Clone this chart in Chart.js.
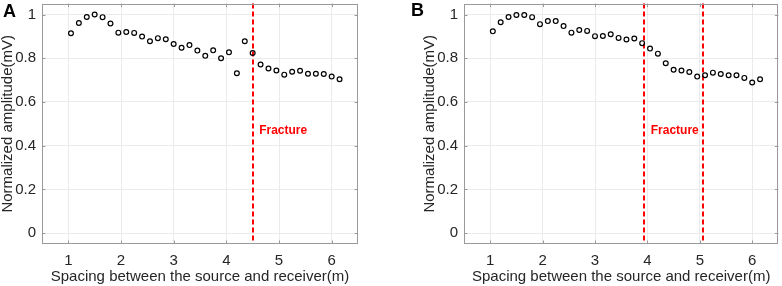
<!DOCTYPE html>
<html><head><meta charset="utf-8">
<script src="https://cdn.jsdelivr.net/npm/chart.js@4.4.1/dist/chart.umd.min.js"></script>
<style>
html,body{margin:0;padding:0;background:#fff;}
#wrap{position:relative;width:782px;height:286px;overflow:hidden;background:#fff;}
canvas{position:absolute;top:0;}
.lab{position:absolute;font:bold 18px "Liberation Sans",Arial,sans-serif;color:#000;line-height:1;}
</style></head><body>
<div id="wrap">
<canvas id="cA" width="391" height="286" style="left:0"></canvas>
<canvas id="cB" width="391" height="286" style="left:391px"></canvas>
<div class="lab" style="left:3px;top:2px">A</div>
<div class="lab" style="left:411px;top:1px">B</div>
</div>
<script>
// ---- data ----
const spacing = [1.05,1.2,1.35,1.5,1.65,1.8,1.95,2.1,2.25,2.4,2.55,2.7,2.85,3.0,3.15,3.3,3.45,3.6,3.75,3.9,4.05,4.2,4.35,4.5,4.65,4.8,4.95,5.1,5.25,5.4,5.55,5.7,5.85,6.0,6.15];
const amplitudeA = [0.914,0.961,0.989,1.0,0.988,0.959,0.917,0.920,0.916,0.899,0.878,0.892,0.887,0.865,0.848,0.860,0.835,0.811,0.836,0.800,0.827,0.731,0.878,0.824,0.771,0.753,0.744,0.725,0.738,0.743,0.729,0.729,0.728,0.716,0.704];
const amplitudeB = [0.923,0.965,0.989,0.998,0.998,0.988,0.956,0.970,0.970,0.947,0.917,0.929,0.925,0.901,0.902,0.910,0.893,0.886,0.890,0.869,0.844,0.821,0.777,0.747,0.744,0.737,0.716,0.722,0.734,0.728,0.722,0.722,0.710,0.689,0.704];
const fractureA = [4.5];
const fractureB = [3.94, 5.07];
const xTicks = [1,2,3,4,5,6];
const yTicks = [0,0.2,0.4,0.6,0.8,1];
const yTickLabels = ['0','0.2','0.4','0.6','0.8','1'];
const xTitle = 'Spacing between the source and receiver(m)';
const yTitle = 'Normalized amplitude(mV)';
const fractureText = 'Fracture';

const FONT = '"Liberation Sans", Arial, sans-serif';
const TXT = '#262626';
const BOX = '#9a9a9a';
const GRID = '#ebebeb';

const decor = {
  id: 'decor',
  beforeDatasetsDraw(chart, args, o) {
    const ctx = chart.ctx, a = chart.chartArea, xs = chart.scales.x;
    ctx.save();
    ctx.strokeStyle = '#ff0000';
    ctx.lineWidth = 2;
    ctx.setLineDash([5, 3]);
    o.lines.forEach(v => {
      const px = Math.round(xs.getPixelForValue(v));
      ctx.beginPath(); ctx.moveTo(px, a.top); ctx.lineTo(px, a.bottom); ctx.stroke();
    });
    ctx.setLineDash([]);
    ctx.fillStyle = '#ff0000';
    ctx.font = 'bold 12px ' + FONT;
    ctx.textBaseline = 'middle';
    ctx.textAlign = 'left';
    ctx.fillText(o.text, xs.getPixelForValue(o.lines[0]) + 6.5, o.labelY);
    ctx.restore();
  },
  afterDraw(chart) {
    const ctx = chart.ctx, a = chart.chartArea, xs = chart.scales.x, ys = chart.scales.y;
    ctx.save();
    ctx.strokeStyle = BOX;
    ctx.lineWidth = 1;
    ctx.strokeRect(Math.round(a.left) + 0.5, Math.round(a.top) + 0.5, Math.round(a.right - a.left) - 1, Math.round(a.bottom - a.top) - 1);
    const L = 3.5;
    ctx.beginPath();
    xTicks.forEach(v => {
      const px = Math.round(xs.getPixelForValue(v)) + 0.5;
      ctx.moveTo(px, a.top); ctx.lineTo(px, a.top + L);
      ctx.moveTo(px, a.bottom); ctx.lineTo(px, a.bottom - L);
    });
    yTicks.forEach(v => {
      const py = Math.round(ys.getPixelForValue(v)) + 0.5;
      ctx.moveTo(a.left, py); ctx.lineTo(a.left + L, py);
      ctx.moveTo(a.right, py); ctx.lineTo(a.right - L, py);
    });
    ctx.stroke();
    ctx.restore();
  }
};

function makeChart(id, values, lines, pad, yWidth) {
  return new Chart(document.getElementById(id), {
    type: 'scatter',
    data: {
      datasets: [{
        data: spacing.map((x, i) => ({ x: x, y: values[i] })),
        pointStyle: 'circle',
        pointRadius: 2.4,
        pointHoverRadius: 2.4,
        borderWidth: 1.2,
        borderColor: '#000',
        backgroundColor: 'rgba(0,0,0,0)'
      }]
    },
    options: {
      responsive: false,
      animation: false,
      devicePixelRatio: 1,
      layout: { padding: pad },
      plugins: {
        legend: { display: false },
        tooltip: { enabled: false },
        decor: { lines: lines, text: fractureText, labelY: 131 }
      },
      scales: {
        x: {
          type: 'linear', min: 0.5, max: 6.5,
          afterBuildTicks: s => { s.ticks = xTicks.map(v => ({ value: v })); },
          afterFit: s => { s.height = 42; s.paddingLeft = 0; s.paddingRight = 0; },
          ticks: { font: { family: FONT, size: 15 }, color: TXT, padding: 8, maxRotation: 0, autoSkip: false,
                   callback: v => String(v) },
          grid: { color: GRID, drawTicks: false, lineWidth: 1 },
          border: { display: false },
          title: { display: true, text: xTitle, font: { family: FONT, size: 15 }, color: TXT, padding: { top: 0, bottom: 0 } }
        },
        y: {
          type: 'linear', min: -0.05, max: 1.05,
          afterBuildTicks: s => { s.ticks = yTicks.map(v => ({ value: v })); },
          afterFit: s => { s.width = yWidth; s.paddingTop = 0; s.paddingBottom = 0; },
          ticks: { font: { family: FONT, size: 15 }, color: TXT, padding: 6, autoSkip: false,
                   callback: v => yTickLabels[yTicks.indexOf(Math.round(v * 10) / 10)] },
          grid: { color: GRID, drawTicks: false, lineWidth: 1 },
          border: { display: false },
          title: { display: true, text: yTitle, font: { family: FONT, size: 15, lineHeight: 1 }, color: TXT, padding: { top: 0, bottom: 0 } }
        }
      }
    },
    plugins: [decor]
  });
}

makeChart('cA', amplitudeA, fractureA, { top: 2, right: 33, bottom: 0, left: 0 }, 42);
makeChart('cB', amplitudeB, fractureB, { top: 2, right: 2, bottom: 0, left: 31 }, 42);
</script>
</body></html>
